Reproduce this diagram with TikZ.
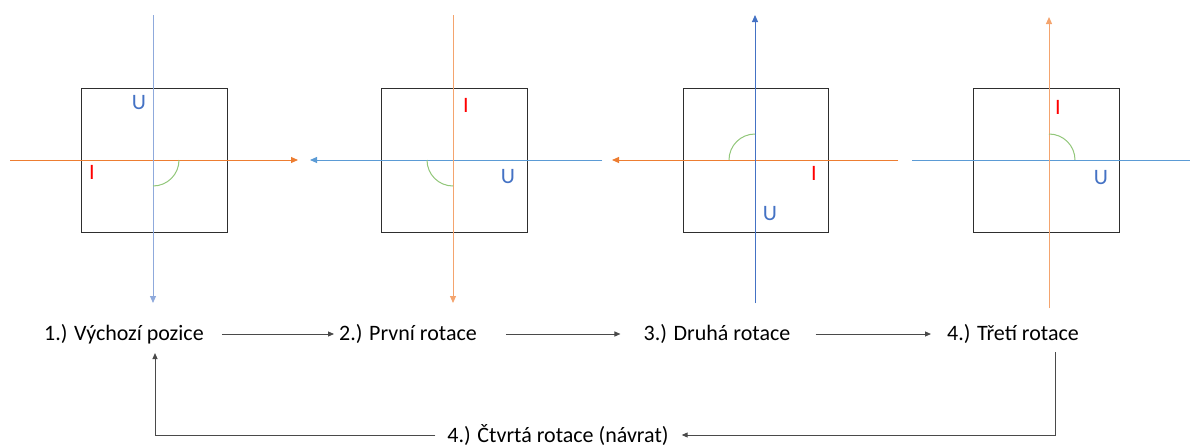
\documentclass[tikz,border=0pt]{standalone}
\usepackage{fontspec}
\setmainfont{Carlito}
\usetikzlibrary{arrows.meta}
\definecolor{oblue}{HTML}{4472C4}
\definecolor{lblue}{HTML}{8FAADC}
\definecolor{mblue}{HTML}{5B9BD5}
\definecolor{oorange}{HTML}{ED7D31}
\definecolor{lorange}{HTML}{F4A46E}
\definecolor{ogreen}{HTML}{92C77A}
\definecolor{boxgray}{HTML}{2E2E2E}
\definecolor{conngray}{HTML}{4A4A4A}
\tikzset{
  axis/.style={line width=1pt},
  axarrow/.style={axis,-{Triangle[length=7pt,width=6pt]}},
  frame/.style={draw=boxgray,line width=1pt},
  arcst/.style={draw=ogreen,line width=1pt},
  lab/.style={inner sep=0pt,font=\fontsize{22}{26}\selectfont},
  stage/.style={inner sep=0pt,font=\fontsize{22}{26}\selectfont},
  conn/.style={draw=conngray,line width=1pt,-{Triangle[length=6pt,width=5pt]}}
}
\begin{document}
\begin{tikzpicture}[x=1pt,y=-1pt]
\useasboundingbox (0,0) rectangle (1190,447);
% panel 1
\draw[frame] (81,88) rectangle (227,232);
\draw[axarrow,draw=oorange,fill=oorange] (10,160) -- (298,160);
\draw[axarrow,draw=lblue,fill=lblue] (153,15) -- (153,303);
\draw[arcst] (179,160) arc[start angle=0,end angle=90,radius=26];
\node[lab,text=oblue] (u1) at (139,103) {U};
\node[lab,text=red] (i1) at (92,172) {I};
% panel 2
\draw[frame] (381,88) rectangle (527,232);
\draw[axarrow,draw=mblue,fill=mblue] (602,160) -- (310,160);
\draw[axarrow,draw=lorange,fill=lorange] (453,15) -- (453,303);
\draw[arcst] (453,186) arc[start angle=90,end angle=180,radius=26];
\node[lab,text=red] (i2) at (466,105) {I};
\node[lab,text=oblue] (u2) at (508,177) {U};
% panel 3
\draw[frame] (683,88) rectangle (828,232);
\draw[axarrow,draw=oorange,fill=oorange] (898,160) -- (612,160);
\draw[axarrow,draw=oblue,fill=oblue] (755,303) -- (755,15);
\draw[arcst] (729,160) arc[start angle=180,end angle=270,radius=26];
\node[lab,text=red] (i3) at (814,173) {I};
\node[lab,text=oblue] (u3) at (770,214) {U};
% panel 4
\draw[frame] (973,88) rectangle (1119,232);
\draw[axis,draw=mblue] (912,160) -- (1190,160);
\draw[axarrow,draw=lorange,fill=lorange] (1049,308) -- (1049,17);
\draw[arcst] (1049,134) arc[start angle=270,end angle=360,radius=26];
\node[lab,text=red] (i4) at (1058,107) {I};
\node[lab,text=oblue] (u4) at (1101,178) {U};
% stages
\node[stage] (n1) at (124,334) {1.) Výchozí pozice};
\node[stage] (n2) at (408,334) {2.) První rotace};
\node[stage] (n3) at (717,334) {3.) Druhá rotace};
\node[stage] (n4) at (1013,334) {4.) Třetí rotace};
\node[stage] (n5) at (558,435) {4.) Čtvrtá rotace (návrat)};
\coordinate (c4) at (1055,352);
\coordinate (c1) at (155,353);
\draw[conn,shorten <=18pt,shorten >=5pt] (n1.east) -- (n2.west);
\draw[conn,shorten <=29pt,shorten >=23pt] (n2.east) -- (n3.west);
\draw[conn,shorten <=25pt,shorten >=16pt] (n3.east) -- (n4.west);
\draw[conn,shorten >=13pt] (c4) |- (n5.east);
\draw[conn,shorten <=12pt] (n5.west) -| (c1);
\end{tikzpicture}
\end{document}
